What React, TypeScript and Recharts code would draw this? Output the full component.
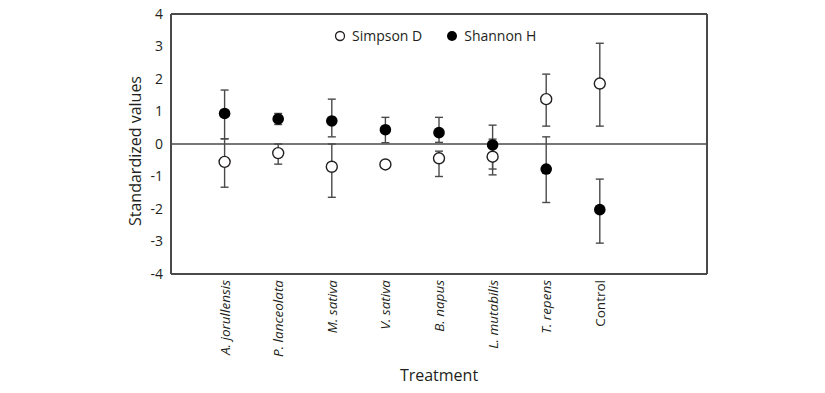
import React from "react";
import {
  ScatterChart,
  Scatter,
  XAxis,
  YAxis,
  ErrorBar,
  ReferenceLine,
} from "recharts";

const categories = [
  "A. jorullensis",
  "P. lanceolata",
  "M. sativa",
  "V. sativa",
  "B. napus",
  "L. mutabilis",
  "T. repens",
  "Control",
];

// Simpson D (open circles)
const simpsonMean = [-0.55, -0.28, -0.7, -0.63, -0.44, -0.39, 1.38, 1.86];
const simpsonLow = [-1.33, -0.62, -1.64, -0.63, -1.0, -0.95, 0.55, 0.55];
const simpsonHigh = [0.16, 0.0, 0.0, -0.63, -0.22, 0.15, 2.15, 3.1];

// Shannon H (filled circles)
const shannonMean = [0.94, 0.77, 0.71, 0.44, 0.35, -0.03, -0.77, -2.02];
const shannonLow = [0.16, 0.6, 0.22, 0.04, 0.05, -0.77, -1.8, -3.05];
const shannonHigh = [1.66, 0.94, 1.38, 0.82, 0.82, 0.58, 0.22, -1.08];

const yTicks = [-4, -3, -2, -1, 0, 1, 2, 3, 4];

const FONT = "'Open Sans', sans-serif";
const AXIS = "#4a4a4a";
const INK = "#231f20";

const simpsonRows = categories.map((name, i) => ({
  x: i + 1,
  name,
  y: simpsonMean[i],
  err: [simpsonMean[i] - simpsonLow[i], simpsonHigh[i] - simpsonMean[i]],
}));

const shannonRows = categories.map((name, i) => ({
  x: i + 1,
  name,
  y: shannonMean[i],
  err: [shannonMean[i] - shannonLow[i], shannonHigh[i] - shannonMean[i]],
}));

const OpenDot = (props: any) => (
  <circle
    cx={props.cx}
    cy={props.cy}
    r={5.5}
    fill="#fff"
    stroke={INK}
    strokeWidth={1.4}
  />
);

const FilledDot = (props: any) => (
  <circle cx={props.cx} cy={props.cy} r={5.8} fill="#000" />
);

const SpeciesTick = (props: any) => {
  const { x, y, payload } = props;
  const label = categories[payload.value - 1];
  if (!label) return null;
  return (
    <text
      x={x}
      y={y}
      transform={`rotate(-90, ${x}, ${y})`}
      textAnchor="end"
      dominantBaseline="central"
      fontFamily={FONT}
      fontSize={13.5}
      fontStyle={label === "Control" ? "normal" : "italic"}
      fill={INK}
    >
      {label}
    </text>
  );
};

// y-axis title, sits a little below the plot's middle like the original
const YTitle = (props: any) => {
  const { viewBox } = props;
  const cx = viewBox.x + viewBox.width / 2 - 6;
  const cy = viewBox.y + viewBox.height / 2 + 7;
  return (
    <text
      x={cx}
      y={cy}
      transform={`rotate(-90, ${cx}, ${cy})`}
      textAnchor="middle"
      dominantBaseline="central"
      fontFamily={FONT}
      fontSize={16}
      fill={INK}
    >
      Standardized values
    </text>
  );
};

const LegendBox = () => (
  <div
    style={{
      position: "absolute",
      left: 334,
      top: 27,
      height: 18,
      display: "flex",
      alignItems: "center",
      fontFamily: FONT,
      fontSize: 14,
      lineHeight: "18px",
      color: INK,
      whiteSpace: "nowrap",
    }}
  >
    <svg width={12} height={12} style={{ marginRight: 6, display: "block" }}>
      <circle cx={6} cy={6} r={4.5} fill="#fff" stroke={INK} strokeWidth={1.3} />
    </svg>
    <span style={{ marginRight: 24 }}>Simpson D</span>
    <svg width={12} height={12} style={{ marginRight: 6, display: "block" }}>
      <circle cx={6} cy={6} r={5} fill="#000" />
    </svg>
    <span>Shannon H</span>
  </div>
);

export default function App() {
  return (
    <div
      style={{
        position: "absolute",
        left: 0,
        top: 0,
        width: 825,
        height: 393,
        background: "#fff",
      }}
    >
      <ScatterChart
        width={825}
        height={393}
        margin={{ top: 14, right: 118, bottom: 0, left: 111 }}
      >
        <XAxis
          type="number"
          dataKey="x"
          domain={[0, 10]}
          ticks={[1, 2, 3, 4, 5, 6, 7, 8]}
          tick={<SpeciesTick />}
          tickLine={false}
          tickSize={0}
          tickMargin={6}
          height={119}
          axisLine={{ stroke: AXIS, strokeWidth: 2 }}
          label={{
            value: "Treatment",
            position: "insideBottom",
            offset: 12,
            fill: INK,
            fontFamily: FONT,
            fontSize: 16,
          }}
        />
        <YAxis
          type="number"
          dataKey="y"
          domain={[-4, 4]}
          ticks={yTicks}
          width={60}
          tickLine={false}
          axisLine={{ stroke: AXIS, strokeWidth: 2 }}
          tick={{ fill: INK, fontFamily: FONT, fontSize: 14 }}
          label={<YTitle />}
        />
        <ReferenceLine y={4} stroke={AXIS} strokeWidth={2} />
        <ReferenceLine x={10} stroke={AXIS} strokeWidth={2} />
        <ReferenceLine y={0} stroke={AXIS} strokeWidth={1.6} />
        <Scatter
          name="Simpson D"
          data={simpsonRows}
          shape={<OpenDot />}
          isAnimationActive={false}
        >
          <ErrorBar
            dataKey="err"
            direction="y"
            width={4}
            stroke={AXIS}
            strokeWidth={1.4}
            isAnimationActive={false}
          />
        </Scatter>
        <Scatter
          name="Shannon H"
          data={shannonRows}
          shape={<FilledDot />}
          isAnimationActive={false}
        >
          <ErrorBar
            dataKey="err"
            direction="y"
            width={4}
            stroke={AXIS}
            strokeWidth={1.4}
            isAnimationActive={false}
          />
        </Scatter>
      </ScatterChart>
      <LegendBox />
    </div>
  );
}
